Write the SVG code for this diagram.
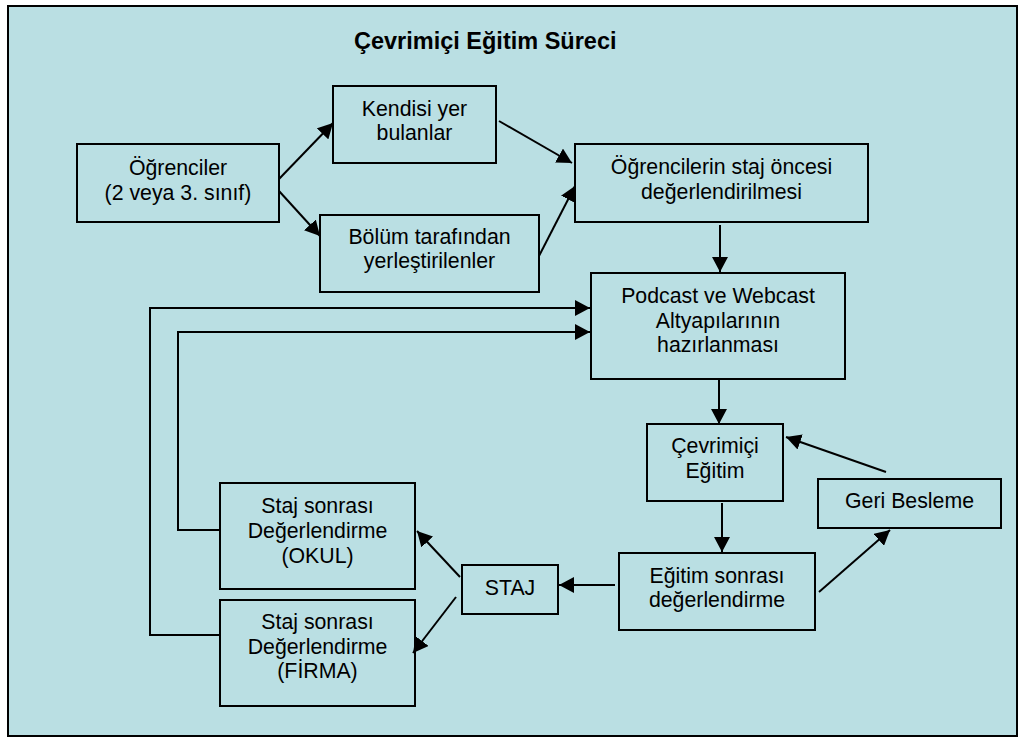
<svg xmlns="http://www.w3.org/2000/svg" width="1023" height="738" viewBox="0 0 1023 738">
<style>
.box{fill:none;stroke:#000;stroke-width:2}
.t{font-family:"Liberation Sans",Arial,sans-serif;font-size:21.3px;fill:#000;text-anchor:middle}
.title{font-family:"Liberation Sans",Arial,sans-serif;font-size:23.5px;font-weight:bold;fill:#000}
.c{fill:none;stroke:#000;stroke-width:2}
.a{marker-end:url(#ah)}
</style>
<defs>
<marker id="ah" markerUnits="userSpaceOnUse" markerWidth="16" markerHeight="16" viewBox="0 0 16 16" refX="15" refY="8" orient="auto">
<path d="M0,0 L15,8 L0,16 z" fill="#000"/>
</marker>
</defs>
<rect x="8" y="6" width="1009" height="730" fill="#BADFE3" stroke="#000" stroke-width="2"/>
<text class="title" x="354" y="49">Çevrimiçi Eğitim Süreci</text>

<g id="connectors">
<line class="c a" x1="279" y1="179" x2="333" y2="123"/>
<line class="c a" x1="279" y1="191" x2="320" y2="236"/>
<line class="c a" x1="499" y1="121" x2="572" y2="163"/>
<line class="c a" x1="539" y1="256" x2="575" y2="186"/>
<line class="c a" x1="720" y1="225" x2="720" y2="272"/>
<polyline class="c a" points="220,635 150,635 150,308 590,308"/>
<polyline class="c a" points="220,530 178,530 178,332 590,332"/>
<line class="c a" x1="719" y1="380" x2="719" y2="424"/>
<line class="c a" x1="722" y1="503" x2="722" y2="552"/>
<line class="c a" x1="886" y1="472" x2="786" y2="437"/>
<line class="c a" x1="819" y1="592" x2="890" y2="530"/>
<line class="c a" x1="615" y1="585" x2="559" y2="585"/>
<line class="c a" x1="460" y1="577" x2="417" y2="531"/>
<line class="c a" x1="456" y1="597" x2="413" y2="653"/>
</g>

<g id="ogrenciler">
<rect class="box" x="77" y="144" width="202" height="78"/>
<text class="t" x="178" y="175">Öğrenciler</text>
<text class="t" x="178" y="200">(2 veya 3. sınıf)</text>
</g>
<g id="kendisi">
<rect class="box" x="333" y="86" width="163" height="77"/>
<text class="t" x="414.5" y="116">Kendisi yer</text>
<text class="t" x="414.5" y="140">bulanlar</text>
</g>
<g id="bolum">
<rect class="box" x="320" y="215" width="219" height="77"/>
<text class="t" x="429.5" y="244">Bölüm tarafından</text>
<text class="t" x="429.5" y="268">yerleştirilenler</text>
</g>
<g id="stajoncesi">
<rect class="box" x="575" y="144" width="293" height="78"/>
<text class="t" x="721.5" y="174">Öğrencilerin staj öncesi</text>
<text class="t" x="721.5" y="199">değerlendirilmesi</text>
</g>
<g id="podcast">
<rect class="box" x="591" y="273" width="254" height="106"/>
<text class="t" x="718" y="303">Podcast ve Webcast</text>
<text class="t" x="718" y="328">Altyapılarının</text>
<text class="t" x="718" y="352">hazırlanması</text>
</g>
<g id="cevrimici">
<rect class="box" x="647" y="424" width="136" height="77"/>
<text class="t" x="715" y="453">Çevrimiçi</text>
<text class="t" x="715" y="478">Eğitim</text>
</g>
<g id="geribesleme">
<rect class="box" x="818" y="479" width="183" height="49"/>
<text class="t" x="909.5" y="508">Geri Besleme</text>
</g>
<g id="egitimsonrasi">
<rect class="box" x="619" y="553" width="196" height="77"/>
<text class="t" x="717" y="583">Eğitim sonrası</text>
<text class="t" x="717" y="607">değerlendirme</text>
</g>
<g id="staj">
<rect class="box" x="462" y="565" width="96" height="49"/>
<text class="t" x="510" y="595">STAJ</text>
</g>
<g id="okul">
<rect class="box" x="220" y="483" width="195" height="106"/>
<text class="t" x="317.5" y="513">Staj sonrası</text>
<text class="t" x="317.5" y="538">Değerlendirme</text>
<text class="t" x="317.5" y="563">(OKUL)</text>
</g>
<g id="firma">
<rect class="box" x="220" y="600" width="195" height="106"/>
<text class="t" x="317.5" y="629">Staj sonrası</text>
<text class="t" x="317.5" y="654">Değerlendirme</text>
<text class="t" x="317.5" y="678">(FİRMA)</text>
</g>
</svg>
